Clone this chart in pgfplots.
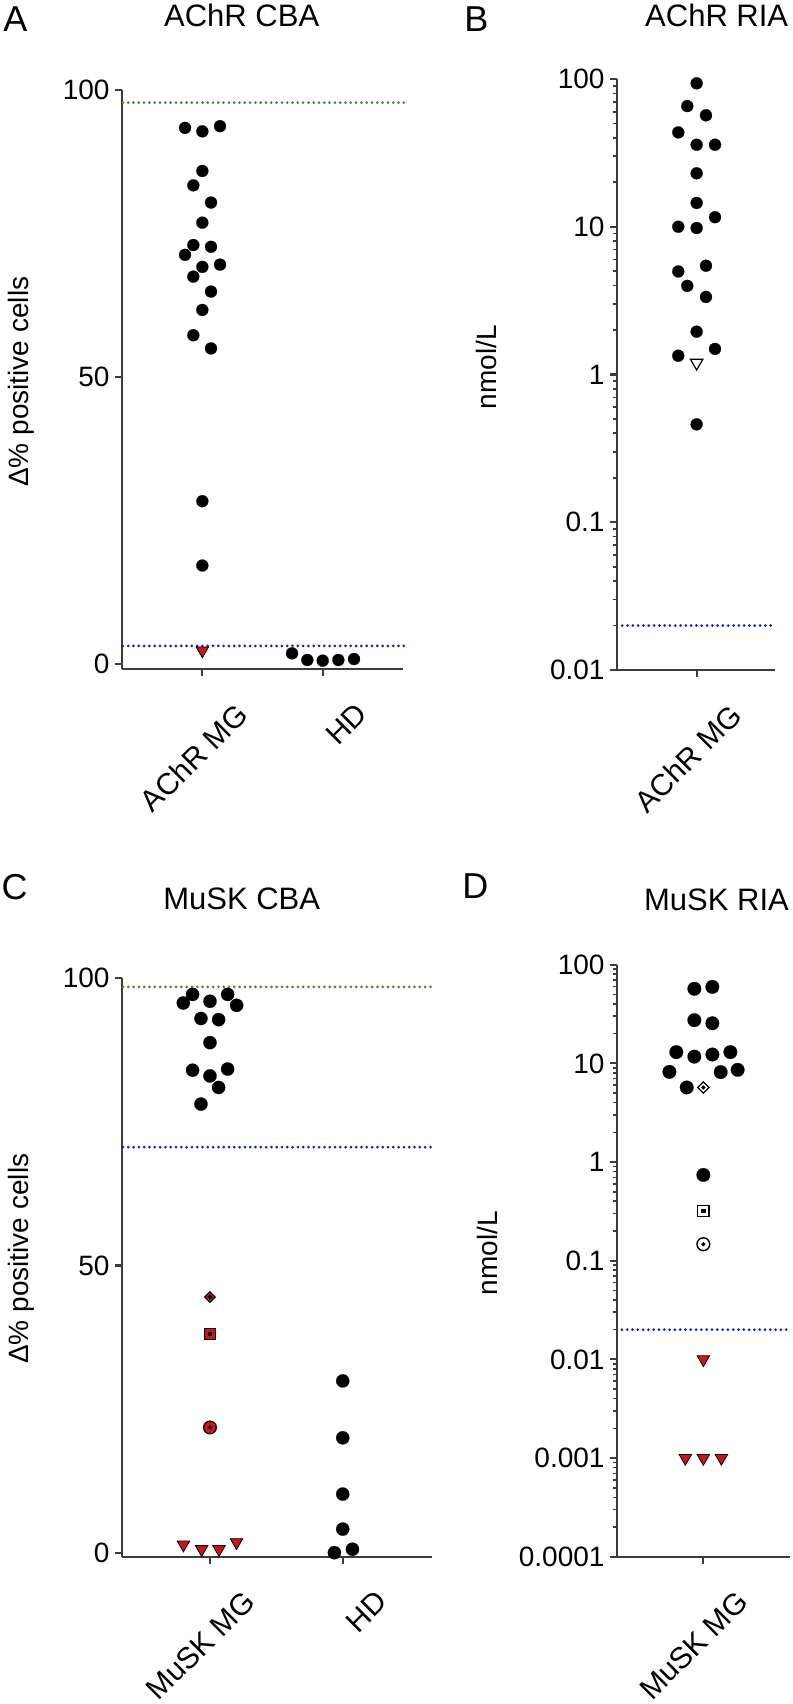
\documentclass[border=0pt]{standalone}
\usepackage{fontspec}
\setmainfont{Liberation Sans}
\usepackage{pgfplots}
\pgfplotsset{compat=1.18}
\definecolor{axgray}{RGB}{60,60,60}
\definecolor{mgreen}{RGB}{75,135,35}
\definecolor{mblue}{RGB}{25,25,205}
\definecolor{mred}{RGB}{205,20,25}
\definecolor{dred}{RGB}{160,30,30}
\pgfplotsset{
 prism/.style={scale only axis, clip=false, enlargelimits=false,
  axis x line*=bottom, axis y line*=left,
  axis line style={-, line width=1.1pt, axgray},
  tick style={line width=1.1pt, axgray}, tick align=outside,
  major tick length=3.5pt, minor tick length=2pt,
  minor tick style={line width=0.8pt, axgray},
  tick label style={font=\fontsize{14}{16}\selectfont, text=black},
  xticklabel style={rotate=45, anchor=north east, inner sep=0pt, xshift=2.5pt, yshift=-20pt, font=\fontsize{15}{17}\selectfont},
  yticklabel style={anchor=east, inner sep=0pt, xshift=-2.4pt}},
 gline/.style={mgreen, line width=1.5pt, dash pattern=on 0pt off 2.65pt, line cap=round, mark=none},
 bline/.style={mblue, line width=1.5pt, dash pattern=on 0pt off 2.65pt, line cap=round, mark=none},
 dots/.style={only marks, mark=*, mark options={fill=black, draw=black, line width=0.1pt}},
 redtri/.style={only marks, mark=triangle*, mark size=3.6pt, mark options={rotate=180, fill=mred, draw=black, line width=0.4pt}},
}
\begin{document}
\begin{tikzpicture}
\useasboundingbox (0,0) rectangle (396.5pt,852pt);
% ---------------- A
\begin{axis}[prism, at={(60.85pt,517.35pt)}, anchor=south west,
 width=140.65pt, height=289.65pt, xmin=-0.67, xmax=1.667, ymin=-0.87, ymax=100,
 xtick={0,1}, xticklabels={AChR MG,HD}, ytick={0,50,100}, yticklabels={0,50,100}]
\addplot[gline] coordinates {(-0.66,97.8) (1.68,97.8)};
\addplot[bline] coordinates {(-0.66,3.2) (1.68,3.2)};
\addplot[dots, mark size=3.0pt] coordinates {(-0.144,93.4) (0,92.8) (0.147,93.7) (0,85.9) (-0.075,83.4) (0.072,80.4) (0,76.9) (-0.075,73.0) (0.072,72.7) (-0.144,71.3) (0,69.2) (0.147,69.6) (-0.075,67.5) (0.072,64.9) (0,61.7) (-0.075,57.3) (0.072,55.0) (0,28.4) (0,17.2)};
\addplot[dots, mark size=3.0pt] coordinates {(0.745,1.9) (0.872,0.75) (1,0.63) (1.13,0.75) (1.26,0.92)};
\addplot[redtri] coordinates {(0,2.4)};
\end{axis}
% ---------------- B
\begin{axis}[prism, ymode=log, at={(308.35pt,517pt)}, anchor=south west,
 width=79.15pt, height=295.5pt, xmin=-0.505, xmax=0.495, ymin=0.01, ymax=100,
 xtick={0}, xticklabels={AChR MG},
 ytick={0.01,0.1,1,10,100}, yticklabels={0.01,0.1,1,10,100},
 minor ytick={0.02,0.03,0.04,0.05,0.06,0.07,0.08,0.09,0.2,0.3,0.4,0.5,0.6,0.7,0.8,0.9,2,3,4,5,6,7,8,9,20,30,40,50,60,70,80,90}]
\addplot[bline] coordinates {(-0.47,0.02) (0.495,0.02)};
\addplot[dots, mark size=3.0pt] coordinates {(0,93.5) (-0.059,65.6) (0.059,56.8) (-0.116,43.5) (0,35.9) (0.116,35.9) (0,23.0) (0,14.5) (0.116,11.6) (-0.116,10.0) (0,9.8) (-0.116,4.98) (0.059,5.45) (-0.059,3.98) (0.059,3.35) (0,1.95) (-0.116,1.34) (0.116,1.49) (0,0.46)};
\addplot[only marks, mark=triangle*, mark size=3.6pt, mark options={rotate=180, fill=white, draw=black, line width=0.6pt}] coordinates {(0,1.2)};
\end{axis}
% ---------------- C
\begin{axis}[prism, at={(60.85pt,73.65pt)}, anchor=south west,
 width=155pt, height=289.2pt, xmin=-0.665, xmax=1.67, ymin=-0.7, ymax=100,
 xtick={0,1}, xticklabels={MuSK MG,HD}, ytick={0,50,100}, yticklabels={0,50,100}]
\addplot[gline] coordinates {(-0.655,98.5) (1.67,98.5)};
\addplot[bline] coordinates {(-0.655,70.6) (1.67,70.6)};
\addplot[dots, mark size=3.3pt] coordinates {(-0.131,97.2) (-0.201,95.7) (0,96.0) (0.133,97.2) (0.201,95.3) (-0.068,93.0) (0.065,92.8) (0,88.8) (-0.131,84.0) (0.133,84.2) (0,83.0) (0.065,81.0) (-0.068,78.1)};
\addplot[dots, mark size=3.3pt] coordinates {(1,29.9) (1,20.0) (1,10.2) (1,4.1) (0.937,0.0) (1.073,0.6)};
\addplot[redtri] coordinates {(-0.2,1.4) (-0.063,0.6) (0.068,0.6) (0.2,1.8)};
\addplot[only marks, mark=square*, mark size=1.9pt, mark options={rotate=45, fill=dred, draw=black, line width=0.5pt}] coordinates {(0,44.5)};
\addplot[only marks, mark=square*, mark size=2.8pt, mark options={fill=mred, draw=black, line width=0.6pt}] coordinates {(0,38.1)};
\addplot[only marks, mark=*, mark size=3.2pt, mark options={fill=mred, draw=black, line width=0.6pt}] coordinates {(0,21.8)};
\addplot[only marks, mark=square*, mark size=0.8pt, mark options={fill=black, draw=black}] coordinates {(0,38.1)};
\addplot[only marks, mark=*, mark size=0.85pt, mark options={fill=black, draw=black}] coordinates {(0,44.5) (0,21.8)};
\end{axis}
% ---------------- D
\begin{axis}[prism, ymode=log, at={(308.35pt,73.65pt)}, anchor=south west,
 width=86.65pt, height=296pt, xmin=-0.5, xmax=0.5, ymin=0.0001, ymax=100,
 xtick={0}, xticklabels={MuSK MG},
 ytick={0.0001,0.001,0.01,0.1,1,10,100}, yticklabels={0.0001,0.001,0.01,0.1,1,10,100},
 minor ytick={0.0002,0.0003,0.0004,0.0005,0.0006,0.0007,0.0008,0.0009,0.002,0.003,0.004,0.005,0.006,0.007,0.008,0.009,0.02,0.03,0.04,0.05,0.06,0.07,0.08,0.09,0.2,0.3,0.4,0.5,0.6,0.7,0.8,0.9,2,3,4,5,6,7,8,9,20,30,40,50,60,70,80,90}]
\addplot[bline] coordinates {(-0.47,0.02) (0.49,0.02)};
\addplot[dots, mark size=3.4pt] coordinates {(-0.052,57) (0.052,59.6) (-0.052,27.4) (0.052,25.5) (-0.156,13.0) (-0.052,11.7) (0.052,12.3) (0.156,13.0) (-0.196,8.2) (0.1,8.15) (0.198,8.6) (-0.096,5.7) (0,0.74)};
\addplot[only marks, mark=square*, mark size=2.0pt, mark options={rotate=45, fill=white, draw=black, line width=0.6pt}] coordinates {(0,5.7)};
\addplot[only marks, mark=square*, mark size=2.8pt, mark options={fill=white, draw=black, line width=0.7pt}] coordinates {(0,0.318)};
\addplot[only marks, mark=*, mark size=3.2pt, mark options={fill=white, draw=black, line width=0.7pt}] coordinates {(0,0.147)};
\addplot[only marks, mark=square*, mark size=0.8pt, mark options={fill=black, draw=black}] coordinates {(0,0.318)};
\addplot[only marks, mark=*, mark size=0.85pt, mark options={fill=black, draw=black}] coordinates {(0,5.7) (0,0.147)};
\addplot[redtri] coordinates {(0,0.01) (-0.104,0.001) (0,0.001) (0.104,0.001)};
\end{axis}
% ---------------- texts
\node[anchor=base west, inner sep=0pt, font=\fontsize{18}{20}\selectfont] at (1.5pt,836pt) {A};
\node[anchor=base west, inner sep=0pt, font=\fontsize{18}{20}\selectfont] at (232pt,836pt) {B};
\node[anchor=base west, inner sep=0pt, font=\fontsize{18}{20}\selectfont] at (0.6pt,402pt) {C};
\node[anchor=base west, inner sep=0pt, font=\fontsize{18}{20}\selectfont] at (231pt,402.5pt) {D};
\node[anchor=base, inner sep=0pt, font=\fontsize{15.5}{17}\selectfont] at (120.85pt,838.5pt) {AChR CBA};
\node[anchor=base, inner sep=0pt, font=\fontsize{15.5}{17}\selectfont] at (358.35pt,838.5pt) {AChR RIA};
\node[anchor=base, inner sep=0pt, font=\fontsize{15.5}{17}\selectfont] at (120.85pt,397pt) {MuSK CBA};
\node[anchor=base, inner sep=0pt, font=\fontsize{15.5}{17}\selectfont] at (358.25pt,396.8pt) {MuSK RIA};
\node[rotate=90, inner sep=0pt, font=\fontsize{14}{16}\selectfont] at (10.5pt,661.15pt) {Δ\% positive cells};
\node[rotate=90, inner sep=0pt, font=\fontsize{14}{16}\selectfont] at (10.5pt,222.65pt) {Δ\% positive cells};
\node[rotate=90, inner sep=0pt, font=\fontsize{14}{16}\selectfont] at (243.2pt,668.5pt) {nmol/L};
\node[rotate=90, inner sep=0pt, font=\fontsize{14}{16}\selectfont] at (243.6pt,225.5pt) {nmol/L};
\end{tikzpicture}
\end{document}
